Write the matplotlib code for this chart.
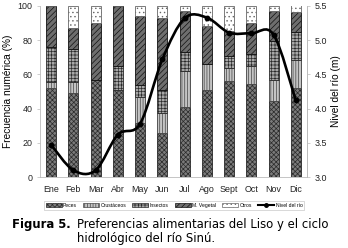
import matplotlib
matplotlib.use("Agg")
import matplotlib.pyplot as plt
import numpy as np
from matplotlib.path import Path
from matplotlib.patches import PathPatch
from matplotlib.lines import Line2D
from matplotlib.patches import Patch

months = ["Ene", "Feb", "Mar", "Abr", "May", "Jun", "Jul", "Ago", "Sept", "Oct", "Nov", "Dic"]

# percentages (stacked, bottom to top)
peces = [52, 49, 56.5, 51, 31.5, 25.7, 41, 51, 56, 54.6, 44.3, 52.2]
crustaceos = [3.5, 6.5, 0, 0, 15.5, 12, 21, 15, 8, 10.4, 12.7, 16]
insectos = [20.5, 19.5, 0, 14, 7, 13.3, 11, 0, 7, 7, 22.5, 16.3]
m_vegetal = [24, 12, 33.5, 35, 40, 42, 24, 22, 14.5, 18.3, 17.5, 12]
otros = [0, 13, 10, 0, 6, 7, 3, 12, 14.5, 9.7, 3, 11.5]

# river level (m)
nivel = [3.47, 3.10, 3.10, 3.62, 3.78, 4.72, 5.32, 5.33, 5.11, 5.10, 5.08, 4.12]

plt.rcParams["hatch.linewidth"] = 0.5
tick_font = ["Liberation Sans Narrow", "Liberation Sans"]

fig = plt.figure(figsize=(3.48, 2.48), dpi=100)
ax = fig.add_axes([0.115, 0.286, 0.767, 0.69])

x = np.arange(len(months))
w = 0.45
series = [
    ("Peces", peces, "#7a7a7a", "#2a2a2a", "xxxxxxx"),
    ("Crustáceos", crustaceos, "#c4c4c4", "#444444", "||||||"),
    ("Insectos", insectos, "#a8a8a8", "#2a2a2a", "+++++"),
    ("M. Vegetal", m_vegetal, "#6e6e6e", "#111111", "//////"),
    ("Otros", otros, "#ffffff", "#666666", "...."),
]
bottom = np.zeros(len(months))
handles = []
for name, vals, fc, ec, hatch in series:
    vals = np.array(vals, dtype=float)
    ax.bar(x, vals, w, bottom=bottom, color=fc, edgecolor=ec, hatch=hatch, linewidth=0.6)
    bottom += vals
    handles.append(Patch(facecolor=fc, edgecolor=ec, hatch=hatch, linewidth=0.5, label=name))

ax.set_xlim(-0.5, 11.5)
ax.set_ylim(0, 100)
ax.set_yticks([0, 20, 40, 60, 80, 100])
ax.set_xticks(x)
ax.set_xticklabels(months)
ax.spines["top"].set_visible(False)
for s in ["left", "bottom", "right"]:
    ax.spines[s].set_color("#bbbbbb")
    ax.spines[s].set_linewidth(0.6)
ax.tick_params(axis="both", labelsize=6.4, colors="#bbbbbb", labelcolor="#222222", length=2, width=0.5)
ax.tick_params(axis="x", length=0, pad=6)
for lab in ax.get_xticklabels() + ax.get_yticklabels():
    lab.set_family(tick_font)
ax.set_ylabel("Frecuencia numérica (%)", fontsize=7.3, family=tick_font, labelpad=3)

ax2 = ax.twinx()
ax2.set_ylim(3.0, 5.5)
ax2.set_yticks([3.0, 3.5, 4.0, 4.5, 5.0, 5.5])
ax2.set_yticklabels(["%.1f" % v for v in [3.0, 3.5, 4.0, 4.5, 5.0, 5.5]])
for s in ["top", "left", "bottom"]:
    ax2.spines[s].set_visible(False)
ax2.spines["right"].set_color("#bbbbbb")
ax2.spines["right"].set_linewidth(0.6)
ax2.tick_params(axis="y", labelsize=6.4, colors="#bbbbbb", labelcolor="#222222", length=2, width=0.5)
for lab in ax2.get_yticklabels():
    lab.set_family(tick_font)
ax2.set_ylabel("Nivel del río (m)", fontsize=7.3, family=tick_font, labelpad=3)

# smoothed line (cubic Bezier through the points)
pts = np.column_stack([x, nivel]).astype(float)
verts = [pts[0]]
codes = [Path.MOVETO]
n = len(pts)
for i in range(n - 1):
    p0 = pts[max(i - 1, 0)]
    p1 = pts[i]
    p2 = pts[i + 1]
    p3 = pts[min(i + 2, n - 1)]
    c1 = p1 + (p2 - p0) / 6.0
    c2 = p2 - (p3 - p1) / 6.0
    verts += [c1, c2, p2]
    codes += [Path.CURVE4] * 3
ax2.add_patch(PathPatch(Path(verts, codes), facecolor="none", edgecolor="black", linewidth=1.9))
ax2.plot(x, nivel, linestyle="none", marker="o", markersize=3.2, color="black")
handles.append(Line2D([0], [0], color="black", linewidth=1.5, marker="o", markersize=2.5, label="Nivel del río"))

leg = fig.legend(handles=handles, loc="center", bbox_to_anchor=(0.5, 0.173), ncol=6,
                 fontsize=3.6, frameon=True, fancybox=False, edgecolor="#bbbbbb",
                 handlelength=3.2, handleheight=0.9, handletextpad=0.3, columnspacing=1.2,
                 borderpad=0.4)
leg.get_frame().set_linewidth(0.5)
for t in leg.get_texts():
    t.set_family(tick_font)

fig.text(0.035, 0.082, "Figura 5.", fontsize=8.4, fontweight="bold", family="DejaVu Sans")
fig.text(0.222, 0.082, "Preferencias alimentarias del Liso y el ciclo", fontsize=8.4, family="DejaVu Sans")
fig.text(0.222, 0.025, "hidrológico del río Sinú.", fontsize=8.4, family="DejaVu Sans")

fig.savefig("out.png", dpi=100)
